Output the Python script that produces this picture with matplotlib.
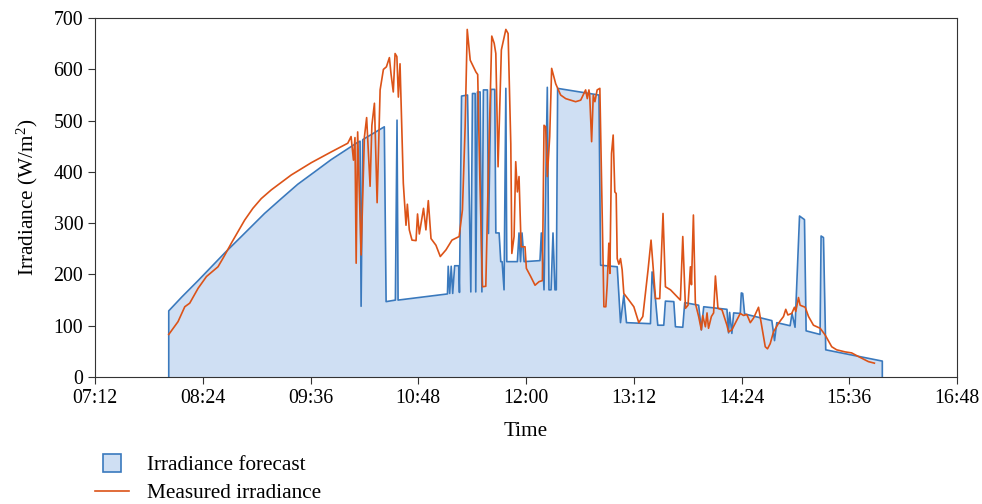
import numpy as np
import matplotlib
matplotlib.use("Agg")
import matplotlib.pyplot as plt
from matplotlib.ticker import FuncFormatter
from matplotlib.patches import Patch, Rectangle
from matplotlib.lines import Line2D
from matplotlib.legend_handler import HandlerPatch

# time in minutes since midnight, irradiance in W/m2
forecast_t = [481.3, 481.3, 490, 500.9, 509.8, 518.7, 529.8, 545.3, 556.5, 567.5, 578.7, 589.8, 598.7, 607.1,
              609.1, 609.8, 610.9, 625.3, 626.5,
              632.7, 633.8, 634.5, 667.5, 668, 669, 670, 671, 672.3, 675, 675.5, 676.9, 680.9, 683.1,
              684.2, 686, 686.4, 687.5, 689.3, 690.5, 691.5, 694.2, 694.9, 696.5, 699.1, 699.8, 702,
              703.1, 704, 705.3, 706.5, 707.1, 714.2, 715.3, 716.3, 717.3, 718.7, 729.3, 730.2, 732,
              734.2, 735.3, 736.7, 738, 739.3, 740.2, 741.1, 768.7, 769.8, 780.9, 783.1, 785.3, 787.1,
              803.1, 804.2, 806.5, 808, 812, 813.1, 818.7, 819.8, 824.7, 826, 835.3, 837.1, 838.7,
              854.2, 855.3, 856, 857.5, 858.7, 863.1, 863.8, 864.7, 866, 884.2, 886, 887.5, 896.4,
              897.7, 899.7, 902.7, 906, 907.1, 916.4, 917.1, 918.7, 920.2, 958, 958]
forecast_v = [0, 129, 156, 188, 215, 242, 274, 319, 348, 376, 400, 424, 441, 457,
              460, 138, 463, 488, 147,
              150, 501, 150, 162, 216, 163, 216, 163, 217, 217, 165, 548, 550, 166,
              553, 553, 166, 556, 556, 166, 560, 560, 280, 561, 561, 281, 281,
              225, 225, 170, 563, 225, 225, 281, 225, 281, 225, 227, 281, 170,
              565, 170, 170, 281, 170, 170, 563, 550, 218, 215, 106, 160, 106,
              104, 205, 150, 101, 101, 148, 147, 98, 97, 145, 140, 92, 137,
              132, 86, 126, 85, 125, 124, 164, 163, 123, 110, 71, 106, 100,
              124, 97, 314, 307, 90, 83, 275, 272, 53, 31, 0]

measured_t = [481.3, 487.5, 492, 495.3, 500.9, 506.5, 514.2, 518.2, 523.1, 532, 537.5, 543.1, 549.8,
              563.1, 576.5, 589.8, 600.9, 603.1,
              604.7, 605.7, 606.5, 607.5, 609.8, 612, 613.5, 615.8, 617, 618.7, 620.5, 622.5,
              624.7, 626.7, 628.7, 629.8, 631.3, 632.5, 633.7, 634.7, 635.8, 638, 639.8, 640.7, 642,
              643.8, 646.5, 647.5, 648.7, 651.5, 653.1, 654.7, 656.5, 659.8, 662.7, 666.5, 670.5,
              675.3, 677.5, 679.3, 680.7, 682.7, 686.5, 687.7, 689.1, 690.9, 693.1, 694.9, 697.1,
              698.7, 699.8, 701.3, 703.5, 706.5, 708, 709.8, 710.5, 712, 713.1, 714.2, 715.3, 716.7,
              719.3, 720.2, 723.1, 726, 728.7, 730.9, 732, 733.1, 734.2, 735.8, 737.1, 739.8, 743.1,
              746.5, 753.1, 756.5, 759.8, 760.9, 762, 762.5, 763.8, 764.9, 766, 767.5, 769.3, 772,
              773.3, 774.2, 775.3, 776, 777.1, 778.2, 779.3, 780.2, 780.9, 782, 783.1, 784.2, 785.3,
              788.7, 792, 795.3, 798, 801.5, 803.5, 806.5, 809.3, 811.5, 813.1, 816.5, 819.8, 823.1,
              824.7, 826.5, 828.2, 829.8, 830.5, 831.8, 833.1, 835.3, 837.1, 838, 839.8, 840.9, 841.9,
              843.8, 845.3, 846.5, 848.2, 850.9, 854.2, 855.3, 857.5, 859.8, 863.1, 865.3, 867.5,
              869.8, 872, 875.3, 877.5, 879.8, 881.3, 883.1, 885.3, 888.7, 892, 893.5, 894.9, 897.5,
              899.3, 900.2, 902, 903.1, 906.5, 908.7, 912, 916.5, 919.8, 924.2, 927.5, 933.1, 937.5,
              942, 948.7, 952.7]
measured_v = [83, 108, 137, 144, 173, 196, 215, 235, 261, 306, 329, 348, 365,
              394, 418, 439, 456, 469,
              423, 467, 222, 478, 238, 468, 506, 372, 491, 534, 340, 560,
              600, 605, 623, 591, 556, 631, 625, 546, 611, 378, 296, 337, 287,
              267, 266, 318, 279, 329, 287, 344, 270, 257, 235, 248, 267,
              274, 326, 488, 678, 618, 595, 590, 391, 176, 177, 410, 665,
              651, 631, 410, 638, 678, 670, 455, 241, 274, 420, 361, 391, 254,
              254, 212, 196, 179, 186, 188, 491, 488, 391, 469, 602, 572, 550,
              543, 537, 540, 560, 543, 560, 550, 459, 550, 537, 560, 563, 137,
              137, 180, 261, 202, 436, 472, 361, 358, 231, 220, 231, 209, 163,
              150, 137, 106, 118, 209, 267, 153, 153, 319, 176, 170, 160, 150,
              274, 134, 140, 215, 180, 316, 144, 118, 92, 120, 98, 125, 95,
              118, 125, 197, 134, 131, 101, 88, 92, 105, 124, 120, 122,
              106, 115, 136, 98, 59, 55, 65, 88, 105, 118, 132, 121, 124,
              136, 128, 155, 140, 136, 118, 101, 95, 82, 59, 53, 49, 47,
              40, 30, 27]

xtick_pos = [432, 504, 576, 648, 720, 792, 864, 936, 1008]

fill_col = '#cfdff3'
blue = '#3a79bd'
orange = '#dc5318'

plt.rcParams['font.family'] = ['Liberation Serif', 'DejaVu Serif']
plt.rcParams['mathtext.fontset'] = 'custom'
plt.rcParams['mathtext.rm'] = 'Liberation Serif'

fig = plt.figure(figsize=(9.82, 5.04), dpi=100)
ax = fig.add_axes([0.0967, 0.252, 0.878, 0.712])

ax.fill_between(forecast_t, forecast_v, 0, color=fill_col, lw=0)
ax.plot(forecast_t, forecast_v, color=blue, lw=1.2)
ax.plot(measured_t, measured_v, color=orange, lw=1.2)

ax.set_xlim(432, 1008)
ax.set_ylim(0, 700)
ax.set_xticks(xtick_pos)
ax.xaxis.set_major_formatter(FuncFormatter(lambda v, p: "%02d:%02d" % (int(v) // 60, int(v) % 60)))
ax.set_yticks(range(0, 701, 100))
ax.tick_params(labelsize=14.3, length=5, color='#333333')
ax.set_xlabel("Time", fontsize=15.3, labelpad=10)
ax.set_ylabel(r"Irradiance (W/m$\mathregular{^2}$)", fontsize=15.3, labelpad=10)
for s in ax.spines.values():
    s.set_color('#333333')


def square_patch(legend, orig_handle, xdescent, ydescent, width, height, fontsize):
    sq = 13
    return Rectangle((-xdescent + (width - sq) / 2, -ydescent + (height - sq) / 2), sq, sq)


handles = [Patch(facecolor=fill_col, edgecolor=blue, lw=1.2),
           Line2D([], [], color=orange, lw=1.2)]
fig.legend(handles, ["Irradiance forecast", "Measured irradiance"], loc='upper left',
           bbox_to_anchor=(0.097, 0.096), frameon=False, fontsize=15.3,
           borderpad=0, borderaxespad=0, handlelength=1.6, handletextpad=0.85,
           labelspacing=0.38, handler_map={Patch: HandlerPatch(patch_func=square_patch)})

plt.savefig("out.png")
